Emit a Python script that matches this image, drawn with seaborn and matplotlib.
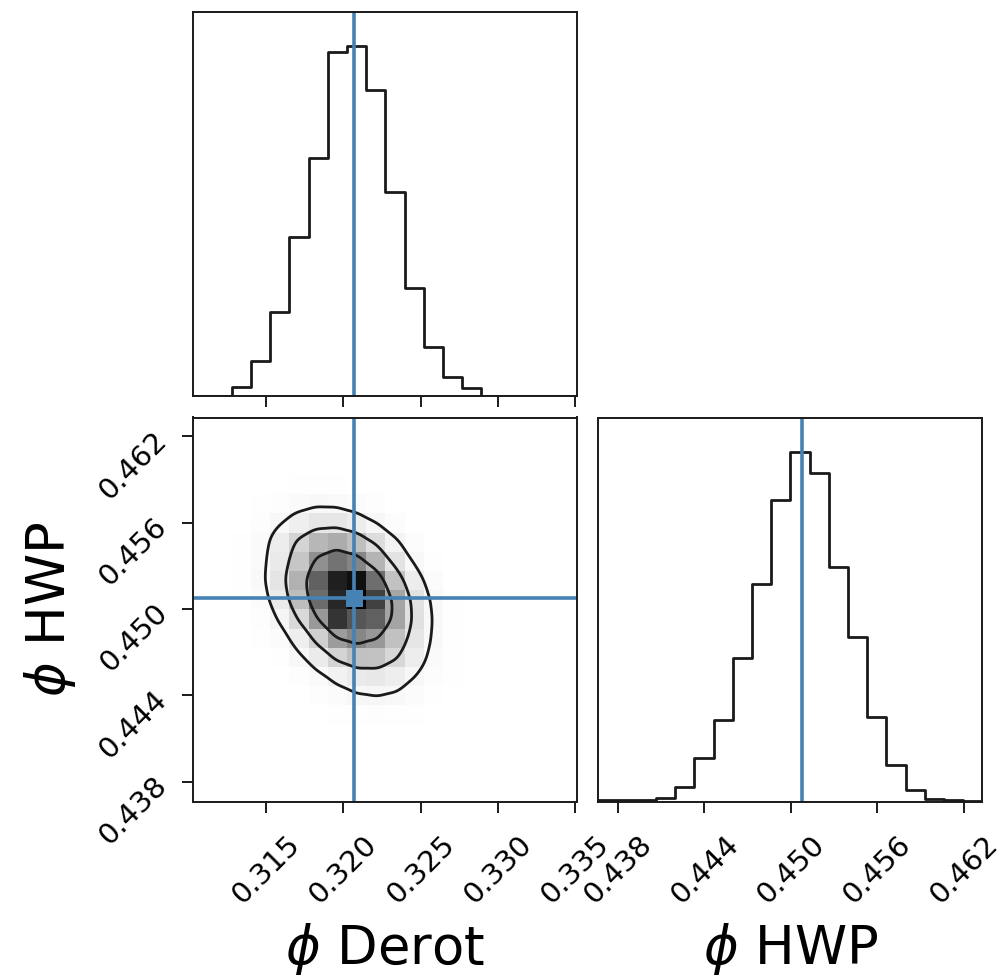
import numpy as np
import matplotlib
matplotlib.use("Agg")
import matplotlib.pyplot as plt
from matplotlib.colors import ListedColormap
import seaborn as sns

# ---- parameter ranges, binning and best-fit values ----
derot_range = (0.31029, 0.33515)
hwp_range = (0.43663, 0.46330)
n_bins = 20
derot_truth = 0.32071
hwp_truth = 0.45075

derot_ticks = [0.315, 0.320, 0.325, 0.330, 0.335]
derot_ticklabels = ["0.315", "0.320", "0.325", "0.330", "0.335"]
hwp_ticks = [0.438, 0.444, 0.450, 0.456, 0.462]
hwp_ticklabels = ["0.438", "0.444", "0.450", "0.456", "0.462"]

derot_label = r"$\phi$ Derot"
hwp_label = r"$\phi$ HWP"

# ---- marginal posterior sample counts per bin ----
derot_counts = [0, 0, 27, 103, 253, 477, 717, 1037, 1053, 923,
                613, 325, 147, 57, 22, 0, 0, 0, 0, 0]
hwp_counts = [3, 3, 3, 10, 43, 131, 243, 428, 651, 900,
              1043, 981, 701, 490, 253, 108, 33, 6, 5, 1]

# ---- joint density per cell (Derot across, HWP rows from highest to lowest) ----
joint_rows = [
    [0, 0, 0, 0, 0, 0, 0, 0, 0, 0, 0, 0, 0, 0, 0, 0, 0, 0, 0, 0],
    [0, 0, 0, 0, 0, 0, 0, 0, 0, 0, 0, 0, 0, 0, 0, 0, 0, 0, 0, 0],
    [0, 0, 0, 0, 5, 8, 8, 6, 4, 0, 0, 0, 0, 0, 0, 0, 0, 0, 0, 0],
    [0, 0, 4, 11, 20, 28, 35, 29, 20, 11, 5, 0, 0, 0, 0, 0, 0, 0, 0, 0],
    [0, 3, 11, 28, 55, 85, 103, 98, 74, 43, 20, 7, 0, 0, 0, 0, 0, 0, 0, 0],
    [0, 6, 20, 53, 110, 181, 234, 238, 190, 120, 59, 23, 7, 0, 0, 0, 0, 0, 0, 0],
    [0, 8, 30, 84, 188, 330, 454, 493, 420, 282, 149, 62, 20, 5, 0, 0, 0, 0, 0, 0],
    [0, 8, 30, 88, 211, 392, 594, 684, 630, 468, 252, 108, 38, 10, 0, 0, 0, 0, 0, 0],
    [0, 7, 30, 95, 240, 478, 740, 920, 960, 700, 410, 194, 72, 21, 5, 0, 0, 0, 0, 0],
    [0, 5, 22, 75, 204, 433, 710, 900, 1000, 830, 520, 258, 102, 32, 8, 0, 0, 0, 0, 0],
    [0, 0, 13, 46, 134, 304, 564, 865, 771, 743, 526, 266, 113, 38, 9, 0, 0, 0, 0, 0],
    [0, 0, 6, 25, 76, 184, 349, 552, 626, 568, 413, 236, 107, 38, 10, 0, 0, 0, 0, 0],
    [0, 0, 0, 12, 40, 102, 206, 329, 413, 407, 316, 193, 93, 35, 10, 0, 0, 0, 0, 0],
    [0, 0, 0, 0, 16, 43, 93, 158, 211, 222, 184, 120, 61, 25, 8, 0, 0, 0, 0, 0],
    [0, 0, 0, 0, 0, 19, 45, 81, 114, 128, 113, 78, 42, 18, 0, 0, 0, 0, 0, 0],
    [0, 0, 0, 0, 0, 0, 13, 24, 37, 44, 42, 31, 18, 0, 0, 0, 0, 0, 0, 0],
    [0, 0, 0, 0, 0, 0, 0, 0, 10, 13, 13, 10, 0, 0, 0, 0, 0, 0, 0, 0],
    [0, 0, 0, 0, 0, 0, 0, 0, 0, 7, 8, 0, 0, 0, 0, 0, 0, 0, 0, 0],
    [0, 0, 0, 0, 0, 0, 0, 0, 0, 0, 0, 0, 0, 0, 0, 0, 0, 0, 0, 0],
    [0, 0, 0, 0, 0, 0, 0, 0, 0, 0, 0, 0, 0, 0, 0, 0, 0, 0, 0, 0],
]

# ---- styling ----
truth_color = "#4682b4"
fs_tick = 21
fs_label = 38
lw_axis = 1.4
lw_hist = 2.0
lw_truth = 2.6
lw_contour = 2.0

sns.set_theme(style="white")
plt.rcParams["font.family"] = ["DejaVu Sans"]
plt.rcParams["mathtext.fontset"] = "dejavusans"
for key in ("text.color", "axes.labelcolor", "xtick.color", "ytick.color"):
    plt.rcParams[key] = "black"

fig = plt.figure(figsize=(10.05, 9.77), dpi=100)
W, H = 1005.0, 977.0
aw, ah = 384.0 / W, 384.0 / H
x0, x1 = 193.3 / W, 598.3 / W
y_low = 1 - 801.5 / H
y_top = 1 - 395.5 / H
ax_top = fig.add_axes([x0, y_top, aw, ah])
ax_2d = fig.add_axes([x0, y_low, aw, ah])
ax_rt = fig.add_axes([x1, y_low, aw, ah])

derot_edges = np.linspace(*derot_range, n_bins + 1)
hwp_edges = np.linspace(*hwp_range, n_bins + 1)
derot_centers = 0.5 * (derot_edges[:-1] + derot_edges[1:])
hwp_centers = 0.5 * (hwp_edges[:-1] + hwp_edges[1:])

# 1-D marginals
for ax, centers, edges, counts in [
    (ax_top, derot_centers, derot_edges, derot_counts),
    (ax_rt, hwp_centers, hwp_edges, hwp_counts),
]:
    sns.histplot(x=centers, weights=np.asarray(counts, float), bins=list(edges),
                 element="step", fill=False, color="k", linewidth=lw_hist, ax=ax)
    ax.set_ylim(0, 1.1 * max(counts))
    ax.set_xlim(edges[0], edges[-1])
    ax.set_yticks([])
    ax.set_ylabel("")

ax_top.axvline(derot_truth, color=truth_color, lw=lw_truth)
ax_rt.axvline(hwp_truth, color=truth_color, lw=lw_truth)

# 2-D joint histogram and credible contours
joint = np.array(joint_rows, dtype=float)[::-1]  # row 0 = lowest HWP bin
gx, gy = np.meshgrid(derot_centers, hwp_centers)
mask = joint.ravel() > 0
jx, jy, jw = gx.ravel()[mask], gy.ravel()[mask], joint.ravel()[mask]

# white-to-black density shading
shade = 1.0 - np.linspace(0.0, 1.0, 256) ** 1.6
density_cmap = ListedColormap(np.column_stack([shade, shade, shade]))
sns.histplot(x=jx, y=jy, weights=jw, bins=[list(derot_edges), list(hwp_edges)],
             cmap=density_cmap, vmin=0, vmax=jw.max(), ax=ax_2d)
sns.kdeplot(x=jx, y=jy, weights=jw, levels=[0.135, 0.325, 0.607],
            colors="k", linewidths=lw_contour, bw_adjust=0.5, ax=ax_2d)

ax_2d.axvline(derot_truth, color=truth_color, lw=lw_truth)
ax_2d.axhline(hwp_truth, color=truth_color, lw=lw_truth)
sns.scatterplot(x=[derot_truth], y=[hwp_truth], marker="s", s=150,
                color=truth_color, edgecolor="none", ax=ax_2d, zorder=5)
ax_2d.set_xlim(*derot_range)
ax_2d.set_ylim(*hwp_range)

# ticks, spines and labels
for ax in (ax_top, ax_2d, ax_rt):
    for sp in ax.spines.values():
        sp.set_visible(True)
        sp.set_color("#1a1a1a")
        sp.set_linewidth(lw_axis)
    ax.tick_params(direction="out", length=8, width=lw_axis, color="#1a1a1a",
                   labelsize=fs_tick)
    ax.tick_params(axis="x", pad=13)
    ax.tick_params(axis="y", pad=14)
    ax.grid(False)

ax_top.set_xticks(derot_ticks)
ax_top.set_xticklabels([])
ax_top.tick_params(bottom=True, left=False)
ax_top.set_xlabel("")

ax_2d.set_xticks(derot_ticks)
ax_2d.set_xticklabels(derot_ticklabels, rotation=45, ha="center", va="top")
ax_2d.set_yticks(hwp_ticks)
ax_2d.set_yticklabels(hwp_ticklabels, rotation=45, ha="right", va="center",
                      rotation_mode="anchor")
ax_2d.tick_params(bottom=True, left=True)
ax_2d.set_xlabel(derot_label, fontsize=fs_label)
ax_2d.set_ylabel(hwp_label, fontsize=fs_label)
ax_2d.xaxis.set_label_coords(0.5, -0.31)
ax_2d.yaxis.set_label_coords(-0.3, 0.5)

ax_rt.set_xticks(hwp_ticks)
ax_rt.set_xticklabels(hwp_ticklabels, rotation=45, ha="center", va="top")
ax_rt.tick_params(bottom=True, left=False)
ax_rt.set_xlabel(hwp_label, fontsize=fs_label)
ax_rt.xaxis.set_label_coords(0.5, -0.31)

fig.savefig("out.png", dpi=100, facecolor="white")
